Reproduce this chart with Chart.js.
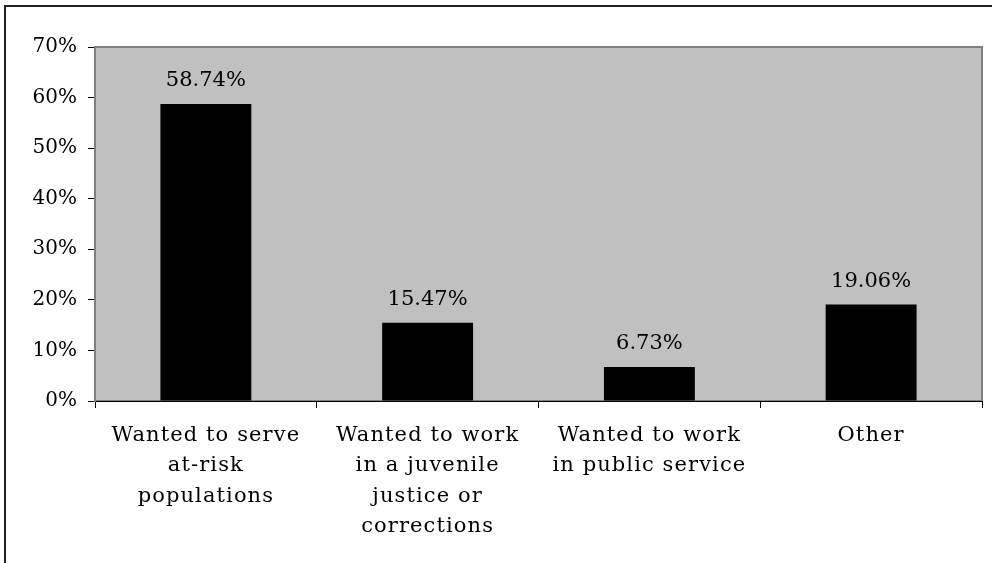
<!DOCTYPE html>
<html>
<head>
<meta charset="utf-8">
<script src="https://cdn.jsdelivr.net/npm/chart.js@4.4.1/dist/chart.umd.min.js"></script>
<style>
html,body{margin:0;padding:0;background:#fff;}
#wrap{width:992px;height:563px;position:relative;}
</style>
</head>
<body>
<div id="wrap"><canvas id="c" width="992" height="563"></canvas></div>
<script>
const categories = [
  ["Wanted to serve", "at-risk", "populations"],
  ["Wanted to work", "in a juvenile", "justice or", "corrections"],
  ["Wanted to work", "in public service"],
  ["Other"]
];
const values = [58.74, 15.47, 6.73, 19.06];
const valueLabels = ["58.74%", "15.47%", "6.73%", "19.06%"];
const yTicks = [0, 10, 20, 30, 40, 50, 60, 70];

const FONT = "'DejaVu Serif', serif";

const framePlugin = {
  id: 'frame',
  beforeDraw(chart) {
    const ctx = chart.ctx, a = chart.chartArea;
    const sx = chart.scales.x;
    if (sx && !sx._lsWrapped) {
      const orig = sx.drawLabels.bind(sx);
      sx.drawLabels = function (area) {
        ctx.save();
        if ('letterSpacing' in ctx) ctx.letterSpacing = '1.1px';
        orig(area);
        ctx.restore();
      };
      sx._lsWrapped = true;
    }
    ctx.save();
    ctx.fillStyle = '#ffffff';
    ctx.fillRect(0, 0, chart.width, chart.height);
    ctx.strokeStyle = '#222222';
    ctx.lineWidth = 2;
    ctx.strokeRect(5, 6, chart.width + 20, chart.height + 20);
    ctx.fillStyle = '#C0C0C0';
    ctx.fillRect(a.left, a.top, a.right - a.left, a.bottom - a.top);
    ctx.strokeStyle = '#808080';
    ctx.lineWidth = 2;
    ctx.strokeRect(a.left, a.top, a.right - a.left, a.bottom - a.top);
    ctx.restore();
  },
  afterDatasetsDraw(chart) {
    const ctx = chart.ctx;
    const meta = chart.getDatasetMeta(0);
    ctx.save();
    ctx.font = "21px " + FONT;
    ctx.fillStyle = '#000';
    ctx.textAlign = 'center';
    ctx.textBaseline = 'alphabetic';
    meta.data.forEach((bar, i) => {
      ctx.fillText(valueLabels[i], bar.x, bar.y - 18);
    });
    ctx.restore();
  }
};

new Chart(document.getElementById('c'), {
  type: 'bar',
  data: {
    labels: categories,
    datasets: [{
      data: values,
      backgroundColor: '#000000',
      borderWidth: 0,
      barPercentage: 0.41,
      categoryPercentage: 1.0
    }]
  },
  options: {
    responsive: false,
    animation: false,
    devicePixelRatio: 1,
    layout: { padding: { top: 47, right: 10, left: 0, bottom: 0 } },
    plugins: { legend: { display: false }, tooltip: { enabled: false } },
    scales: {
      x: {
        offset: true,
        grid: { offset: true, drawOnChartArea: false, color: '#000', tickLength: 7, lineWidth: 1 },
        border: { color: '#000', width: 1 },
        ticks: { color: '#000', font: { family: FONT, size: 21, lineHeight: 1.45 }, padding: 12, maxRotation: 0, autoSkip: false },
        afterFit(s) { s.height = 162; }
      },
      y: {
        min: 0, max: 70,
        afterBuildTicks(s) { s.ticks = yTicks.map(v => ({ value: v })); },
        grid: { drawOnChartArea: false, color: '#000', tickLength: 7, lineWidth: 1 },
        border: { color: '#808080', width: 2 },
        ticks: { color: '#000', font: { family: FONT, size: 20 }, padding: 11, callback: v => v + '%' },
        afterFit(s) { s.width = 95; }
      }
    }
  },
  plugins: [framePlugin]
});
</script>
</body>
</html>
